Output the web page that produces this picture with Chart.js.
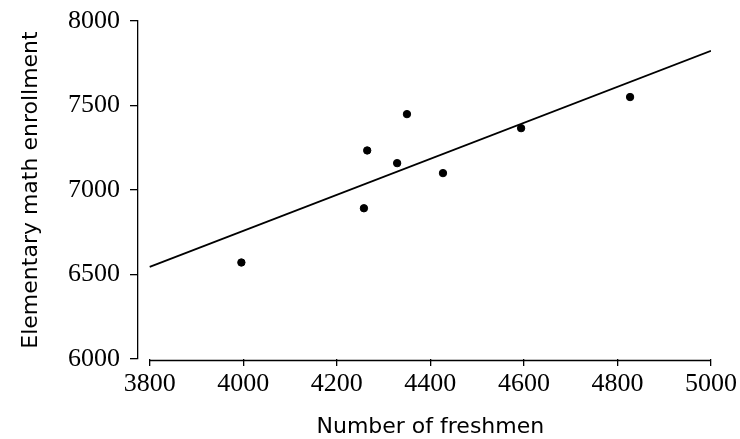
<!DOCTYPE html>
<html>
<head>
<meta charset="utf-8">
<script src="https://cdn.jsdelivr.net/npm/chart.js@4/dist/chart.umd.min.js"></script>
<style>
  html, body { margin: 0; padding: 0; background: #fff; }
  #wrap { width: 740px; height: 439px; }
</style>
</head>
<body>
<div id="wrap"><canvas id="c" width="740" height="439"></canvas></div>
<script>
// Data
const freshmen   = [3996, 4258, 4265, 4329, 4350, 4427, 4594, 4827];
const enrollment = [6571, 6892, 7234, 7159, 7449, 7100, 7366, 7550];
// Fitted regression line (end points)
const fitX = [3800, 5000];
const fitY = [6545, 7824];
// Tick labels
const xTicks = [3800, 4000, 4200, 4400, 4600, 4800, 5000];
const yTicks = [6000, 6500, 7000, 7500, 8000];
const xTitle = 'Number of freshmen';
const yTitle = 'Elementary math enrollment';

const points = freshmen.map((v, i) => ({ x: v, y: enrollment[i] }));
const fit = fitX.map((v, i) => ({ x: v, y: fitY[i] }));

const tickFont = { family: '"Liberation Serif", "DejaVu Serif", serif', size: 26 };
const titleFamily = '"DejaVu Sans", sans-serif';
const titleFont = { family: titleFamily, size: 22 };

// x axis line spans only the tick range (axis is detached from the y axis)
// and the x title is centred under that range
const xAxisDecor = {
  id: 'xAxisDecor',
  afterDraw(chart) {
    const xs = chart.scales.x;
    const ctx = chart.ctx;
    const y = chart.chartArea.bottom + 1.5;
    const x0 = xs.getPixelForValue(xTicks[0]);
    const x1 = xs.getPixelForValue(xTicks[xTicks.length - 1]);
    ctx.save();
    ctx.strokeStyle = '#000';
    ctx.lineWidth = 1.3;
    ctx.beginPath();
    ctx.moveTo(x0, y);
    ctx.lineTo(x1, y);
    ctx.stroke();
    ctx.fillStyle = '#000';
    ctx.font = '22px ' + titleFamily;
    ctx.textAlign = 'center';
    ctx.textBaseline = 'alphabetic';
    ctx.fillText(xTitle, (x0 + x1) / 2, 433);
    ctx.restore();
  }
};

new Chart(document.getElementById('c'), {
  type: 'scatter',
  data: {
    datasets: [
      {
        type: 'line',
        data: fit,
        borderColor: '#000',
        borderWidth: 1.8,
        pointRadius: 0,
        fill: false,
        order: 2
      },
      {
        type: 'scatter',
        data: points,
        backgroundColor: '#000',
        borderColor: '#000',
        pointRadius: 3.7,
        pointHoverRadius: 3.7,
        order: 1
      }
    ]
  },
  options: {
    responsive: false,
    animation: false,
    devicePixelRatio: 1,
    layout: { padding: { top: 21, right: 28, left: 0, bottom: 0 } },
    plugins: { legend: { display: false }, tooltip: { enabled: false } },
    scales: {
      x: {
        type: 'linear',
        min: 3775,
        max: 5000,
        afterBuildTicks(scale) { scale.ticks = xTicks.map(v => ({ value: v })); },
        afterFit(scale) { scale.height = 80; },
        border: { display: false },
        grid: { drawOnChartArea: false, drawTicks: true, tickLength: 7, color: '#000', lineWidth: 1.3 },
        ticks: { color: '#000', font: tickFont, padding: 3, maxRotation: 0, autoSkip: false,
                 callback: v => String(v) },
        title: { display: false, text: xTitle }
      },
      y: {
        type: 'linear',
        min: 6000,
        max: 8000,
        afterBuildTicks(scale) { scale.ticks = yTicks.map(v => ({ value: v })); },
        afterFit(scale) { scale.width = 138; scale.paddingTop = 0; scale.paddingBottom = 0; },
        border: { display: true, color: '#000', width: 1.3 },
        grid: { drawOnChartArea: false, drawTicks: true, tickLength: 8, color: '#000', lineWidth: 1.3 },
        ticks: { color: '#000', font: tickFont, padding: 10, autoSkip: false, callback: v => String(v) },
        title: { display: true, text: yTitle, color: '#000', font: titleFont, padding: { top: 18, bottom: 0 } }
      }
    }
  },
  plugins: [xAxisDecor]
});
</script>
</body>
</html>
